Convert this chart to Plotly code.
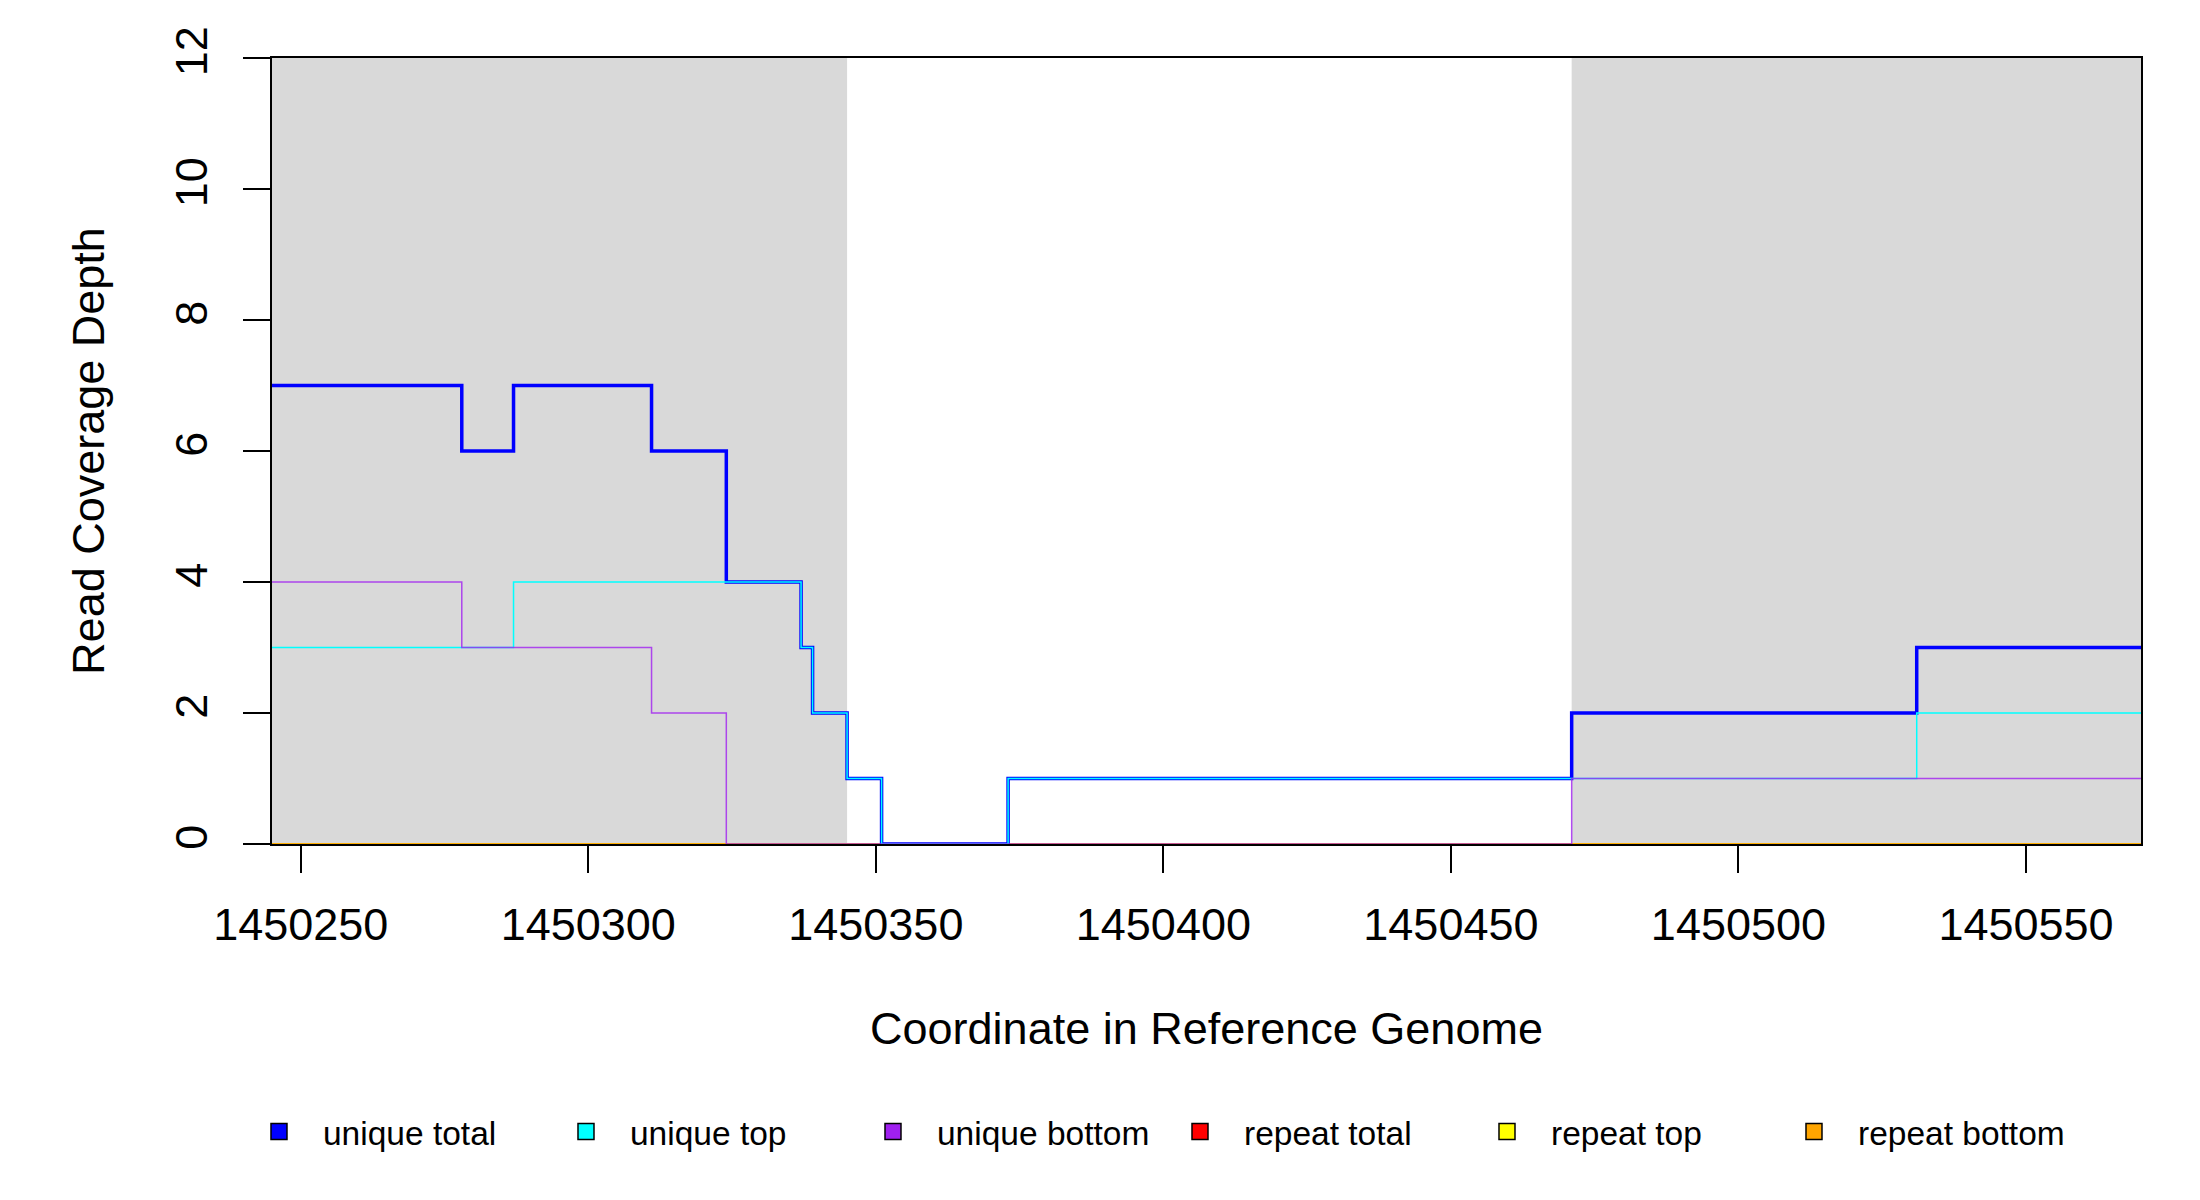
import plotly.graph_objects as go

# step breakpoints along the reference coordinate (value holds until next breakpoint)
positions = [1450245, 1450278, 1450287, 1450311, 1450324, 1450337, 1450339,
             1450345, 1450351, 1450373, 1450471, 1450531, 1450570]

unique_total = [7, 6, 7, 6, 4, 3, 2, 1, 0, 1, 2, 3, 3]
unique_top = [3, 3, 4, 4, 4, 3, 2, 1, 0, 1, 1, 2, 2]
unique_bottom = [4, 3, 3, 2, 0, 0, 0, 0, 0, 0, 1, 1, 1]
repeat_total = [0, 0, 0, 0, 0, 0, 0, 0, 0, 0, 0, 0, 0]
repeat_top = [0, 0, 0, 0, 0, 0, 0, 0, 0, 0, 0, 0, 0]
repeat_bottom = [0, 0, 0, 0, 0, 0, 0, 0, 0, 0, 0, 0, 0]

# grey shaded regions
shade_start = [1450245, 1450471]
shade_end = [1450345, 1450570]

x_ticks = [1450250, 1450300, 1450350, 1450400, 1450450, 1450500, 1450550]
y_ticks = [0, 2, 4, 6, 8, 10, 12]

FONT = "Liberation Sans"

fig = go.Figure()

for s, e in zip(shade_start, shade_end):
    fig.add_shape(type="rect", xref="x", yref="y", x0=s, x1=e, y0=0, y1=12,
                  fillcolor="#d9d9d9", line=dict(width=0), layer="below")

# repeat lines first, unique lines on top
lines = [
    ("repeat total", repeat_total, "red", 1.5),
    ("repeat top", repeat_top, "yellow", 1.5),
    ("repeat bottom", repeat_bottom, "orange", 1.5),
    ("unique total", unique_total, "blue", 3.5),
    ("unique top", unique_top, "cyan", 1.5),
    ("unique bottom", unique_bottom, "rgba(160,32,240,0.8)", 1.5),
]
for name, vals, col, w in lines:
    fig.add_trace(go.Scatter(x=positions, y=vals, mode="lines", line_shape="hv",
                             line=dict(color=col, width=w), showlegend=False,
                             hoverinfo="skip", name=name))

# legend with filled squares, in the original order
legend_items = [("unique total", "blue"), ("unique top", "cyan"),
                ("unique bottom", "#a020f0"), ("repeat total", "red"),
                ("repeat top", "yellow"), ("repeat bottom", "orange")]
for name, col in legend_items:
    fig.add_trace(go.Scatter(x=[None], y=[None], mode="markers", name=name,
                             marker=dict(symbol="square", size=24, color=col,
                                         line=dict(color="black", width=1.5))))

fig.update_layout(
    width=2200, height=1200,
    margin=dict(l=264, r=67, t=50, b=364, autoexpand=False),
    paper_bgcolor="white", plot_bgcolor="white",
    font=dict(family=FONT, color="black", size=45),
    legend=dict(orientation="h", x=-0.0198, xanchor="left", y=-0.366, yanchor="middle",
                font=dict(size=33.5), entrywidth=214, entrywidthmode="pixels",
                itemwidth=78, bgcolor="rgba(0,0,0,0)"),
    xaxis=dict(range=[positions[0], positions[-1]], tickvals=x_ticks, tickformat="d",
               ticks="outside", ticklen=27, tickwidth=1.5, tickcolor="black",
               showline=True, linecolor="black", linewidth=1.5, mirror=True,
               showgrid=False, zeroline=False, ticklabelstandoff=13,
               layer="below traces",
               title=dict(text="Coordinate in Reference Genome", standoff=64,
                          font=dict(size=45))),
    yaxis=dict(range=[0, 12], tickvals=y_ticks, tickangle=-90,
               ticks="outside", ticklen=27, tickwidth=1.5, tickcolor="black",
               showline=True, linecolor="black", linewidth=1.5, mirror=True,
               showgrid=False, zeroline=False, ticklabelstandoff=18,
               layer="below traces",
               title=dict(text="Read Coverage Depth", standoff=48,
                          font=dict(size=45))),
)

fig.write_html("out.html")
